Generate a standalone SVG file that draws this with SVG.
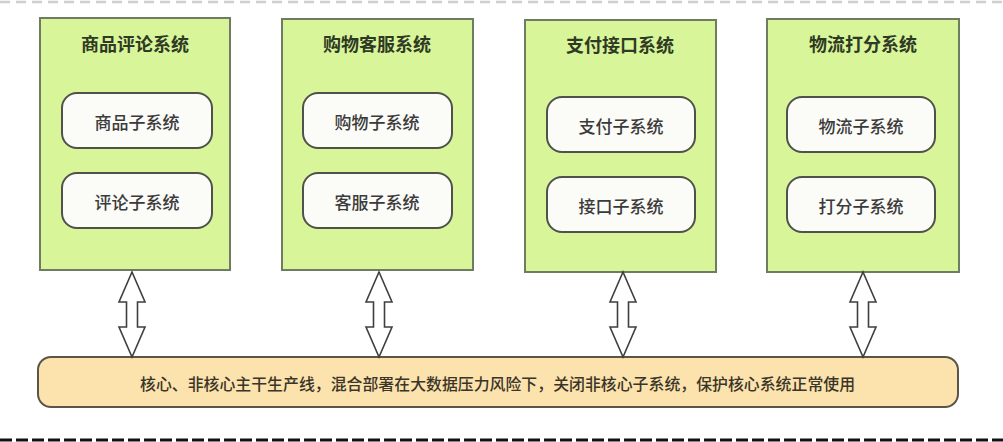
<svg xmlns="http://www.w3.org/2000/svg" width="1003" height="442" viewBox="0 0 1003 442">
<style>
.sys{fill:#d9f59a;stroke:#6e7d62;stroke-width:2}
.sub{fill:#fbfbf8;stroke:#4f524a;stroke-width:2}
.title{font-family:"Noto Sans CJK SC","Noto Sans",sans-serif;font-size:18px;font-weight:bold;fill:#2f3a24;text-anchor:middle;dominant-baseline:central}
.subt{font-family:"Noto Sans CJK SC","Noto Sans",sans-serif;font-size:17px;font-weight:500;fill:#3a3a3a;text-anchor:middle;dominant-baseline:central}
.bar{fill:#fce3ae;stroke:#5a5548;stroke-width:2}
.bart{font-family:"Noto Sans CJK SC","Noto Sans",sans-serif;font-size:15.9px;font-weight:500;fill:#3a3528;dominant-baseline:central}
.arr{fill:#ffffff;stroke:#3f3f3f;stroke-width:1.6;stroke-linejoin:miter}
</style>
<defs>
<path id="dblarrow" d="M0,0 L13,30 L5.5,30 L5.5,55 L13,55 L0,85 L-13,55 L-5.5,55 L-5.5,30 L-13,30 Z"/>
</defs>
<rect width="1003" height="442" fill="#ffffff"/>
<line x1="0" y1="2" x2="1003" y2="2" stroke="#cfcfcf" stroke-width="2.5" stroke-dasharray="10,6"/>
<line x1="0" y1="440" x2="1003" y2="440" stroke="#111111" stroke-width="3" stroke-dasharray="12,4"/>

<g id="sys-review">
<rect class="sys" x="40" y="18" width="190" height="252"/>
<text class="title" x="135" y="43">商品评论系统</text>
<g id="sub-goods"><rect class="sub" x="62" y="93" width="150" height="55" rx="15"/><text class="subt" x="137" y="121">商品子系统</text></g>
<g id="sub-review"><rect class="sub" x="62" y="173" width="150" height="55" rx="15"/><text class="subt" x="137" y="201">评论子系统</text></g>
</g>

<g id="sys-shop">
<rect class="sys" x="282" y="19" width="191" height="251"/>
<text class="title" x="377" y="43">购物客服系统</text>
<g id="sub-shop"><rect class="sub" x="303" y="93" width="149" height="55" rx="15"/><text class="subt" x="377" y="121">购物子系统</text></g>
<g id="sub-service"><rect class="sub" x="303" y="173" width="149" height="55" rx="15"/><text class="subt" x="377" y="201">客服子系统</text></g>
</g>

<g id="sys-pay">
<rect class="sys" x="525" y="20" width="191" height="252"/>
<text class="title" x="620" y="44">支付接口系统</text>
<g id="sub-pay"><rect class="sub" x="547" y="97" width="148" height="55" rx="15"/><text class="subt" x="621" y="125">支付子系统</text></g>
<g id="sub-api"><rect class="sub" x="547" y="177" width="148" height="55" rx="15"/><text class="subt" x="621" y="205">接口子系统</text></g>
</g>

<g id="sys-logistics">
<rect class="sys" x="767" y="19" width="192" height="253"/>
<text class="title" x="863" y="43">物流打分系统</text>
<g id="sub-logistics"><rect class="sub" x="787" y="97" width="148" height="55" rx="15"/><text class="subt" x="861" y="125">物流子系统</text></g>
<g id="sub-score"><rect class="sub" x="787" y="177" width="148" height="55" rx="15"/><text class="subt" x="861" y="205">打分子系统</text></g>
</g>

<g id="core-bar">
<rect class="bar" x="38" y="357" width="920" height="50" rx="13"/>
<text class="bart" x="140" y="383">核心、非核心主干生产线，混合部署在大数据压力风险下，关闭非核心子系统，保护核心系统正常使用</text>
</g>

<g id="connectors">
<use href="#dblarrow" class="arr" x="132" y="272"/>
<use href="#dblarrow" class="arr" x="379" y="272"/>
<use href="#dblarrow" class="arr" x="623" y="272"/>
<use href="#dblarrow" class="arr" x="863" y="272"/>
</g>
</svg>
